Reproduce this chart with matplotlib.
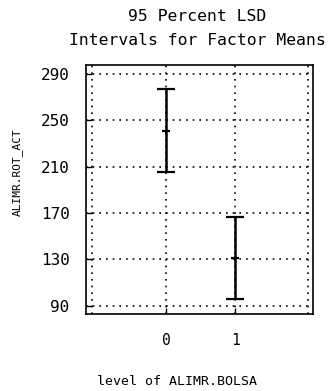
import matplotlib
matplotlib.use("Agg")
import matplotlib.pyplot as plt

# LSD interval data
levels = [0, 1]
level_labels = ["0", "1"]
means = [241.0, 131.0]
half_width = [35.4, 35.4]
y_ticks = [90, 130, 170, 210, 250, 290]

plt.rcParams["font.family"] = "DejaVu Sans Mono"

fig = plt.figure(figsize=(3.30, 3.91), dpi=100)
ax = fig.add_axes([0.261, 0.197, 0.688, 0.637])

# dotted grid
for yv in y_ticks:
    ax.axhline(yv, color="black", linestyle=(0, (1, 3)), linewidth=1.2, zorder=1)
for xv in [-1.08, 0, 1, 2.05]:
    ax.axvline(xv, color="black", linestyle=(0, (1, 3)), linewidth=1.2, zorder=1)

ax.errorbar(levels, means, yerr=half_width, fmt="none", ecolor="black",
            elinewidth=1.8, capsize=6.5, capthick=1.6, zorder=3)
ax.plot(levels, means, linestyle="none", marker="_", markersize=6,
        markeredgewidth=1.6, color="black", zorder=4)

ax.set_xlim(-1.16, 2.13)
ax.set_ylim(83, 297.5)
ax.set_xticks(levels)
ax.set_xticklabels(level_labels, fontsize=10.5)
ax.set_yticks(y_ticks)
ax.set_yticklabels([str(v) for v in y_ticks], fontsize=11.5)
ax.tick_params(axis="both", direction="in", length=4, width=1)
ax.tick_params(axis="y", pad=12)
ax.tick_params(axis="x", pad=14)
for spine in ax.spines.values():
    spine.set_linewidth(1.2)

fig.text(0.597, 0.957, "95 Percent LSD", ha="center", va="center", fontsize=11.8)
fig.text(0.597, 0.897, "Intervals for Factor Means", ha="center", va="center", fontsize=11.8)
fig.text(0.052, 0.56, "ALIMR.ROT_ACT", rotation=90, ha="center", va="center", fontsize=8)
fig.text(0.536, 0.025, "level of ALIMR.BOLSA", ha="center", va="center", fontsize=9.5)

plt.savefig("out.png", dpi=100)
plt.close()
